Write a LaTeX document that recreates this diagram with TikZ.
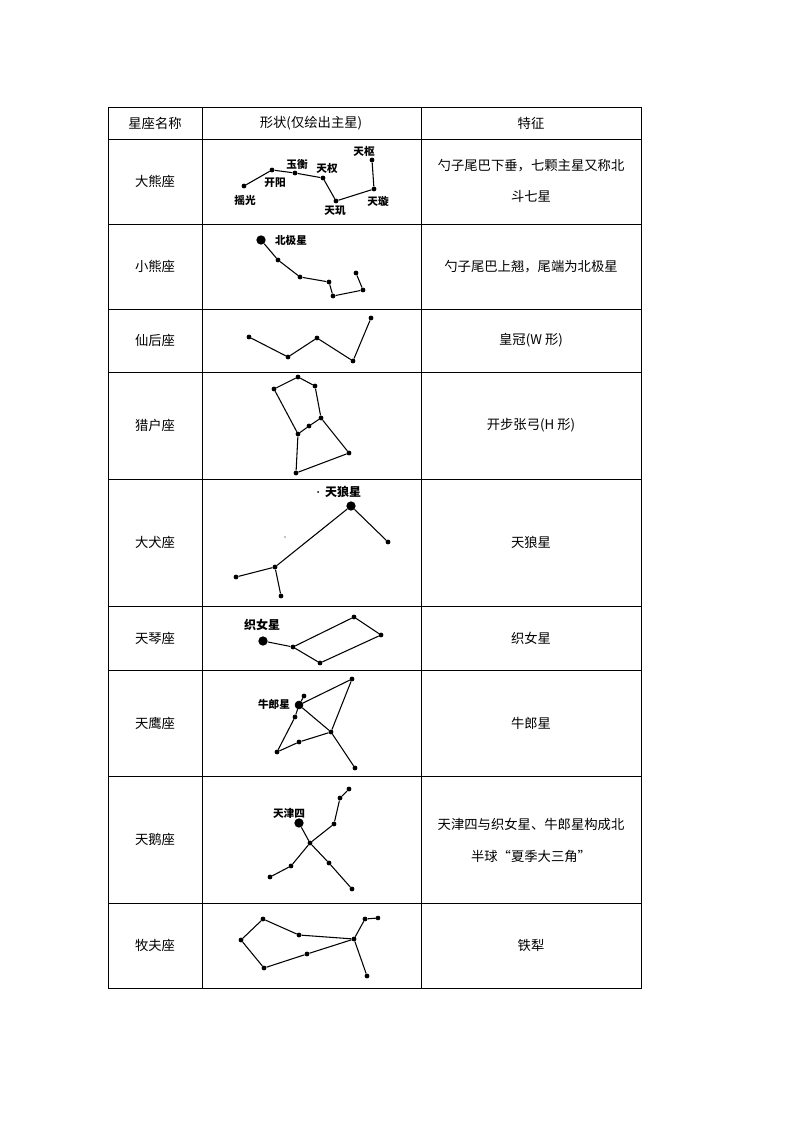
\documentclass[tikz,border=0pt]{standalone}
\usepackage{fontspec}
\setmainfont{Noto Sans CJK SC}
\newfontfamily\cjk{Noto Sans CJK SC}
\begin{document}
\begin{tikzpicture}[x=0.75pt,y=-0.75pt,
  st/.style={circle,fill=black,inner sep=0pt,minimum size=3.6pt},
  bg/.style={circle,fill=black,inner sep=0pt,minimum size=7pt},
  lb/.style={font=\fontsize{8}{9}\selectfont\bfseries,inner sep=0pt},
  tx/.style={font=\fontsize{10}{12}\selectfont,inner sep=0pt,align=center},
  ln/.style={line width=0.8pt}]
\useasboundingbox (0,0) rectangle (794,1123);
% table
\draw[line width=0.6pt] (108,107) rectangle (641,988);
\foreach \x in {202,421} \draw[line width=0.6pt] (\x,107) -- (\x,988);
\foreach \y in {139,224,309,372,479,606,670,776,903} \draw[line width=0.6pt] (108,\y) -- (641,\y);
% header
\node[tx] (h1) at (155,123) {星座名称};
\node[tx] (h2) at (311,123) {形状(仅绘出主星)};
\node[tx] (h3) at (531,123) {特征};
\node[tx] (n1) at (155,181.5) {大熊座};
\node[tx] (n2) at (155,266.5) {小熊座};
\node[tx] (n3) at (155,340.5) {仙后座};
\node[tx] (n4) at (155,425.5) {猎户座};
\node[tx] (n5) at (155,542.5) {大犬座};
\node[tx] (n6) at (155,638) {天琴座};
\node[tx] (n7) at (155,723) {天鹰座};
\node[tx] (n8) at (155,839.5) {天鹅座};
\node[tx] (n9) at (155,945.5) {牧夫座};
\node[tx] (f1) at (531,166) {勺子尾巴下垂，七颗主星又称北};
\node[tx] (f1b) at (531,196) {斗七星};
\node[tx] (f2) at (531,266.5) {勺子尾巴上翘，尾端为北极星};
\node[tx] (f3) at (531,340.5) {皇冠(W 形)};
\node[tx] (f4) at (531,425.5) {开步张弓(H 形)};
\node[tx] (f5) at (531,542.5) {天狼星};
\node[tx] (f6) at (531,638) {织女星};
\node[tx] (f7) at (531,723) {牛郎星};
\node[tx] (f8) at (531,824) {天津四与织女星、牛郎星构成北};
\node[tx] (f8b) at (531,856) {半球“夏季大三角”};
\node[tx] (f9) at (531,945.5) {铁犁};
% Big Dipper
\node[st] (a1) at (244,186) {}; \node[st] (a2) at (272,170) {};
\node[st] (a3) at (295,173) {}; \node[st] (a4) at (323,178) {};
\node[st] (a5) at (336,201) {}; \node[st] (a6) at (374,189) {};
\node[st] (a7) at (372,160) {};
\draw[ln] (a1)--(a2)--(a3)--(a4)--(a5)--(a6)--(a7);
\node[lb] (la1) at (245,200) {摇光}; \node[lb] (la2) at (275,183) {开阳};
\node[lb] (la3) at (297,164) {玉衡}; \node[lb] (la4) at (327,168) {天权};
\node[lb] (la5) at (335,211) {天玑}; \node[lb] (la6) at (378,201) {天璇};
\node[lb] (la7) at (364,151) {天枢};
% Little Dipper
\node[bg] (b1) at (261,240) {}; \node[st] (b2) at (278,260) {};
\node[st] (b3) at (300,277) {}; \node[st] (b4) at (329,282) {};
\node[st] (b5) at (333,296) {}; \node[st] (b6) at (363,290) {};
\node[st] (b7) at (356,273) {};
\draw[ln] (b1)--(b2)--(b3)--(b4)--(b5)--(b6)--(b7);
\node[lb] (lb1) at (291,240) {北极星};
% Cassiopeia
\node[st] (c1) at (249,337) {}; \node[st] (c2) at (288,357) {};
\node[st] (c3) at (317,338) {}; \node[st] (c4) at (353,361) {};
\node[st] (c5) at (371,318) {};
\draw[ln] (c1)--(c2)--(c3)--(c4)--(c5);
% Orion
\node[st] (d1) at (298,377) {}; \node[st] (d2) at (274,389) {};
\node[st] (d3) at (315,386) {}; \node[st] (d4) at (321,418) {};
\node[st] (d5) at (309,426) {}; \node[st] (d6) at (298,434) {};
\node[st] (d7) at (349,453) {}; \node[st] (d8) at (296,473) {};
\draw[ln] (d2)--(d1)--(d3)--(d4)--(d5)--(d6)--(d2);
\draw[ln] (d4)--(d7)--(d8)--(d6);
% Canis Major
\node[bg] (e1) at (351,506) {}; \node[st] (e2) at (388,542) {};
\node[st] (e3) at (275,567) {}; \node[st] (e4) at (236,577) {};
\node[st] (e5) at (281,596) {};
\node[circle,fill=black,inner sep=0pt,minimum size=1.5pt] (e6) at (318,492) {};
\node[circle,fill=black,inner sep=0pt,minimum size=1pt] (e7) at (285,537) {};
\draw[ln] (e2)--(e1)--(e3)--(e4); \draw[ln] (e3)--(e5);
\node[lb,font=\fontsize{9}{10}\selectfont\bfseries] (le1) at (343,492) {天狼星};
% Lyra
\node[bg] (g1) at (263,641) {}; \node[st] (g2) at (293,647) {};
\node[st] (g3) at (354,617) {}; \node[st] (g4) at (381,635) {};
\node[st] (g5) at (320,663) {};
\draw[ln] (g1)--(g2)--(g3)--(g4)--(g5)--(g2);
\node[lb,font=\fontsize{9}{10}\selectfont\bfseries] (lg1) at (262,625) {织女星};
% Aquila
\node[circle,draw,fill=black,inner sep=0pt,minimum size=6pt] (k1) at (299,705) {};
\node[st] (k2) at (304,696) {}; \node[st] (k3) at (352,679) {};
\node[st] (k4) at (331,732) {}; \node[st] (k5) at (295,717) {};
\node[st] (k6) at (299,742) {}; \node[st] (k7) at (277,752) {};
\node[st] (k8) at (355,768) {};
\draw[ln] (k1)--(k2); \draw[ln] (k1)--(k3)--(k4)--(k1);
\draw[ln] (k1)--(k5)--(k7)--(k6)--(k4)--(k8);
\node[lb] (lk1) at (274,704) {牛郎星};
% Cygnus
\node[bg] (m1) at (299,823) {}; \node[st] (m2) at (310,843) {};
\node[st] (m3) at (334,824) {}; \node[st] (m4) at (340,798) {};
\node[st] (m5) at (349,789) {}; \node[st] (m6) at (291,866) {};
\node[st] (m7) at (270,877) {}; \node[st] (m8) at (329,863) {};
\node[st] (m9) at (352,889) {};
\draw[ln] (m1)--(m2)--(m3)--(m4)--(m5);
\draw[ln] (m2)--(m6)--(m7); \draw[ln] (m2)--(m8)--(m9);
\node[lb] (lm1) at (289,813) {天津四};
% Bootes
\node[st] (p1) at (241,940) {}; \node[st] (p2) at (263,919) {};
\node[st] (p3) at (299,935) {}; \node[st] (p4) at (354,939) {};
\node[st] (p5) at (365,919) {};
\node[circle,draw,fill=black,inner sep=0pt,minimum size=3pt] (p6) at (378,918) {};
\node[st] (p7) at (367,976) {}; \node[st] (p8) at (307,954) {};
\node[st] (p9) at (264,968) {};
\draw[ln] (p1)--(p2)--(p3)--(p4)--(p5)--(p6);
\draw[ln] (p4)--(p7); \draw[ln] (p4)--(p8)--(p9)--(p1);
\end{tikzpicture}
\end{document}
